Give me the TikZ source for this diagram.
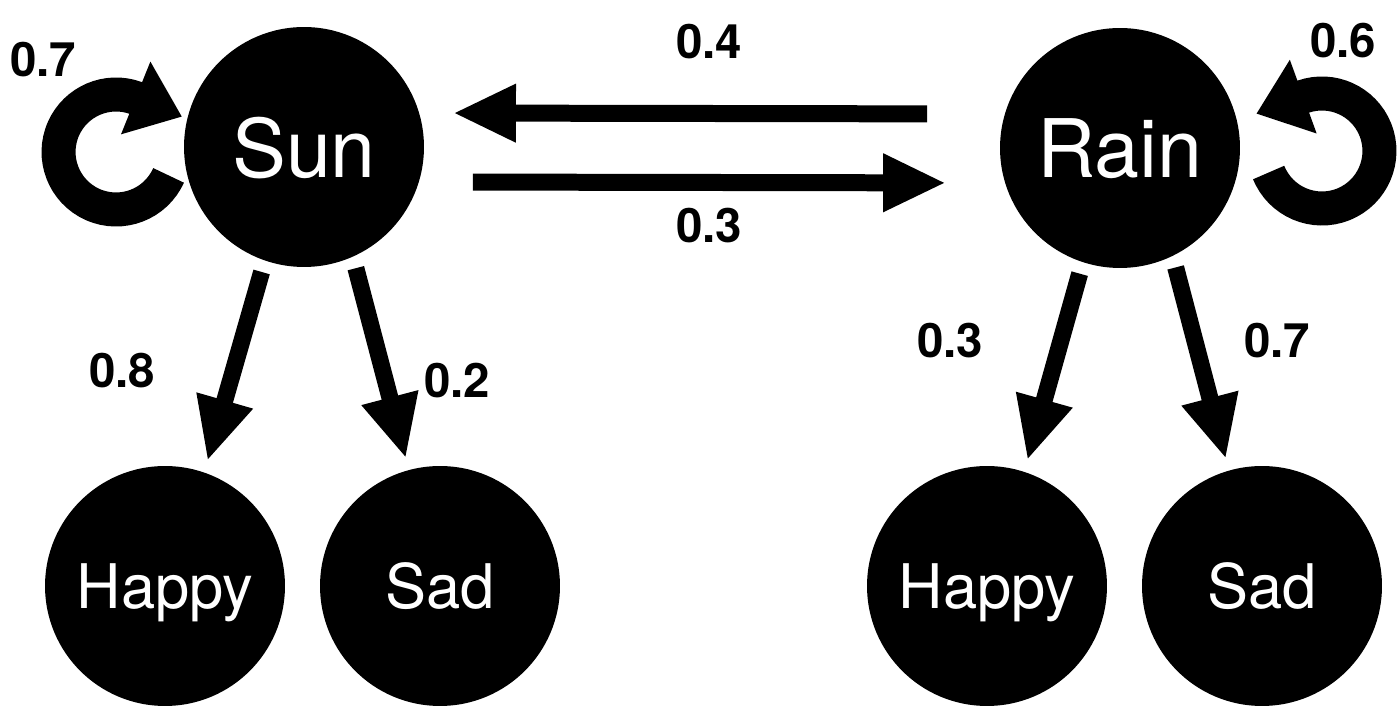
\documentclass[tikz,border=0pt]{standalone}
\usepackage{fontspec}
\setmainfont{TeX Gyre Heros}
\usetikzlibrary{arrows.meta}

\begin{document}
\begin{tikzpicture}[x=0.02cm,y=0.02cm,
  weather node/.style={circle,fill=black,text=white,inner sep=0pt,outer sep=0pt,
    minimum size=4.8cm,text depth=0pt,font=\fontsize{46}{50}\selectfont},
  mood node/.style={weather node,font=\fontsize{35}{40}\selectfont},
  prob/.style={inner sep=0pt,font=\bfseries\fontsize{27}{30}\selectfont},
  trans/.style={line width=0.34cm,-{Triangle[length=1.26cm,width=1.08cm]},
    shorten <=0.24cm,shorten >=0.24cm},
  self loop/.style={line width=0.68cm,-{Triangle[length=1cm,width=1.5cm]}}]

  \fill[white] (0,0) rectangle (1400,706);
  \useasboundingbox (0,0) rectangle (1400,706);

  \node[weather node] (sun) at (304,559) {Sun};
  \node[weather node] (rain) at (1120,558) {Rain};
  \node[mood node] (happy1) at (165,120) {Happy};
  \node[mood node] (sad1) at (440,120) {Sad};
  \node[mood node] (happy2) at (987,120) {Happy};
  \node[mood node] (sad2) at (1262,120) {Sad};

  % self transitions
  \coordinate (sunloop) at ([xshift=-3.76cm,yshift=-0.1cm]sun.center);
  \coordinate (rainloop) at ([xshift=4.04cm,yshift=-0.06cm]rain.center);
  \draw[self loop] ([shift={(-24:1.15cm)}]sunloop)
    arc[start angle=-24,end angle=-290,radius=1.15cm] -- ++(-22:1cm);
  \draw[self loop] ([shift={(202:1.15cm)}]rainloop)
    arc[start angle=202,end angle=469,radius=1.15cm] -- ++(200:1cm);

  % between the weather states
  \draw[trans,shorten <=1.46cm,shorten >=0.58cm]
    ([yshift=0.68cm]rain.west) -- ([yshift=0.68cm]sun.east);
  \draw[trans,shorten <=0.98cm,shorten >=1.08cm]
    ([yshift=-0.7cm]sun.east) -- ([yshift=-0.7cm]rain.west);

  % emissions
  \draw[trans] (sun.251) -- (happy1.71);
  \draw[trans] (sun.294) -- (sad1.105);
  \draw[trans] (rain.252) -- (happy2.72);
  \draw[trans] (rain.296) -- (sad2.106);

  \node[prob] (p7) at (43,646) {0.7};
  \node[prob] (p6) at (1343,665) {0.6};
  \node[prob] (p4) at (709,664) {0.4};
  \node[prob] (p3) at (709,480) {0.3};
  \node[prob] (e8) at (122,335) {0.8};
  \node[prob] (e2) at (457,325) {0.2};
  \node[prob] (e3) at (950,365) {0.3};
  \node[prob] (e7) at (1277,365) {0.7};
\end{tikzpicture}
\end{document}
